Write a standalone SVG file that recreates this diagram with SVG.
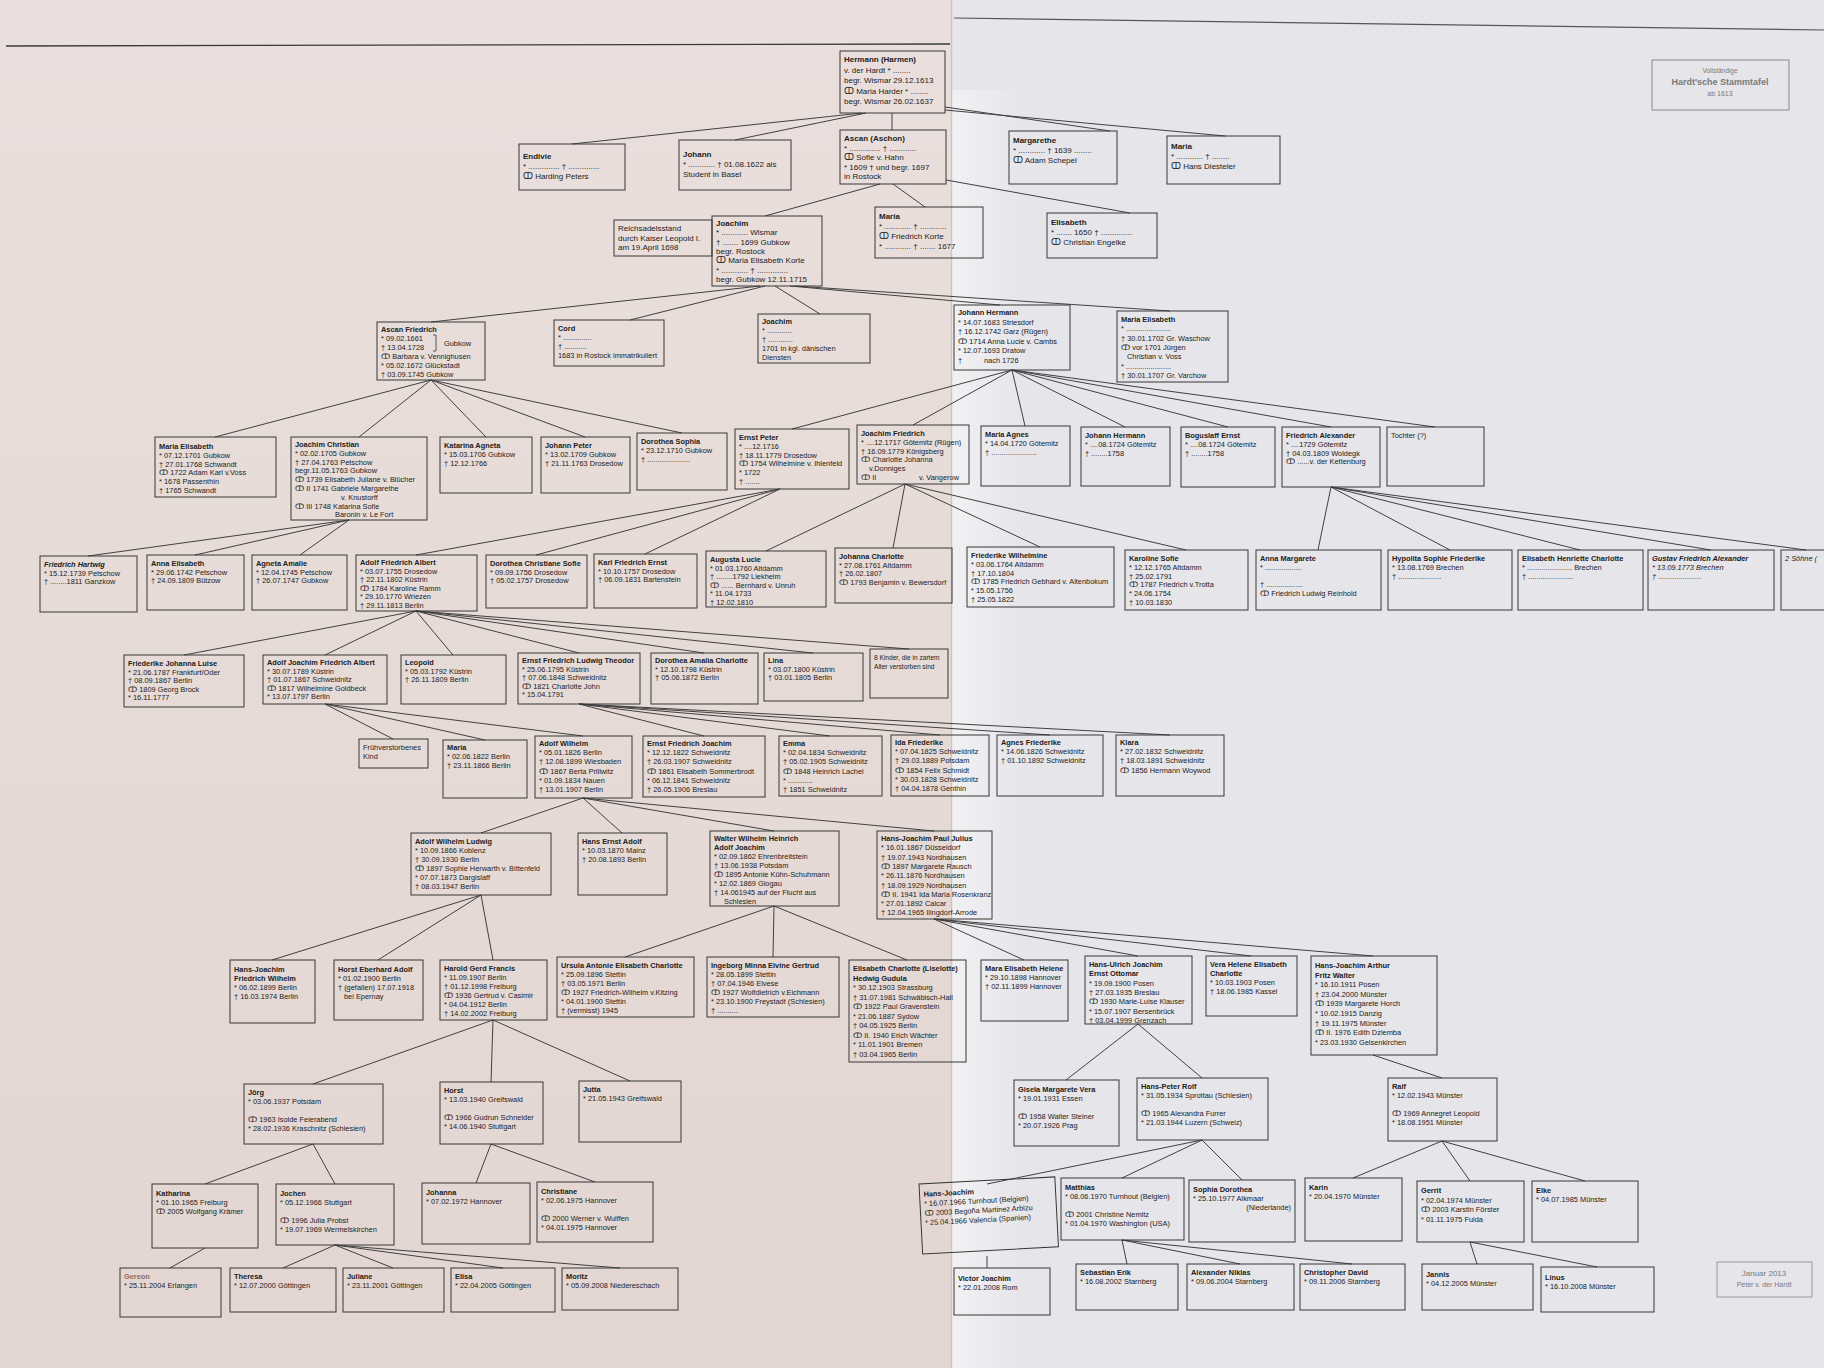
<svg xmlns="http://www.w3.org/2000/svg" width="1824" height="1368" viewBox="0 0 1824 1368">
<defs>
<linearGradient id="fold" x1="0" y1="0" x2="1" y2="0">
<stop offset="0" stop-color="#ffffff" stop-opacity="0.45"/>
<stop offset="1" stop-color="#ffffff" stop-opacity="0"/>
</linearGradient>
<linearGradient id="shadeL" x1="0" y1="0" x2="0" y2="1">
<stop offset="0" stop-color="#eadfdc"/>
<stop offset="1" stop-color="#e3d6d2"/>
</linearGradient>
<style>
.b{fill:none;stroke:#363636;stroke-width:1}
.t{font-family:"Liberation Sans","DejaVu Sans",Arial,sans-serif;font-size:7.4px;fill:#222}
.m{font-size:8px}
.n{font-weight:bold}
.g{fill:#7a7a7a}
.c line{stroke:#404040;stroke-width:1}
</style>
</defs>

<!-- paper: two halves meeting at the fold -->
<rect x="0" y="0" width="952" height="1368" fill="url(#shadeL)"/>
<rect x="952" y="0" width="872" height="1368" fill="#e6e5ea"/>
<rect x="952" y="90" width="70" height="1278" fill="url(#fold)"/>
<line x1="951.5" y1="0" x2="951.5" y2="1368" stroke="#cfc4c2" stroke-width="1.5"/>
<line x1="6" y1="46" x2="950" y2="44" stroke="#3a3a3a" stroke-width="1.3"/>
<line x1="954" y1="18" x2="1824" y2="30" stroke="#555" stroke-width="1.1"/>

<!-- connectors -->
<g id="connectors" class="c">
<line x1="862" y1="113" x2="572" y2="144"/>
<line x1="866" y1="113" x2="735" y2="140"/>
<line x1="892" y1="113" x2="892" y2="130"/>
<line x1="945" y1="107" x2="1110" y2="131"/>
<line x1="945" y1="110" x2="1225" y2="136"/>
<line x1="880" y1="184" x2="765" y2="216"/>
<line x1="893" y1="184" x2="925" y2="207"/>
<line x1="946" y1="180" x2="1130" y2="213"/>
<line x1="760" y1="286" x2="431" y2="322"/>
<line x1="765" y1="286" x2="630" y2="320"/>
<line x1="775" y1="286" x2="820" y2="314"/>
<line x1="790" y1="286" x2="1000" y2="305"/>
<line x1="795" y1="286" x2="1170" y2="311"/>
<line x1="431" y1="380" x2="215" y2="437"/>
<line x1="431" y1="380" x2="359" y2="437"/>
<line x1="431" y1="380" x2="486" y2="437"/>
<line x1="431" y1="380" x2="585" y2="437"/>
<line x1="431" y1="380" x2="682" y2="433"/>
<line x1="1012" y1="370" x2="792" y2="429"/>
<line x1="1012" y1="370" x2="913" y2="425"/>
<line x1="1012" y1="370" x2="1025" y2="426"/>
<line x1="1012" y1="370" x2="1125" y2="427"/>
<line x1="1012" y1="370" x2="1228" y2="427"/>
<line x1="1012" y1="370" x2="1331" y2="427"/>
<line x1="1012" y1="370" x2="1435" y2="427"/>
<line x1="349" y1="520" x2="88" y2="556"/>
<line x1="349" y1="520" x2="195" y2="555"/>
<line x1="349" y1="520" x2="300" y2="555"/>
<line x1="780" y1="489" x2="416" y2="555"/>
<line x1="780" y1="489" x2="536" y2="555"/>
<line x1="780" y1="489" x2="645" y2="554"/>
<line x1="905" y1="484" x2="766" y2="551"/>
<line x1="905" y1="484" x2="893" y2="548"/>
<line x1="905" y1="484" x2="1040" y2="547"/>
<line x1="905" y1="484" x2="1186" y2="550"/>
<line x1="1331" y1="487" x2="1318" y2="550"/>
<line x1="1331" y1="487" x2="1450" y2="550"/>
<line x1="1331" y1="487" x2="1580" y2="550"/>
<line x1="1331" y1="487" x2="1711" y2="550"/>
<line x1="1331" y1="487" x2="1806" y2="550"/>
<line x1="416" y1="611" x2="184" y2="655"/>
<line x1="416" y1="611" x2="325" y2="655"/>
<line x1="416" y1="611" x2="453" y2="655"/>
<line x1="416" y1="611" x2="579" y2="653"/>
<line x1="416" y1="611" x2="704" y2="653"/>
<line x1="416" y1="611" x2="813" y2="653"/>
<line x1="416" y1="611" x2="909" y2="649"/>
<line x1="325" y1="704" x2="393" y2="739"/>
<line x1="325" y1="704" x2="485" y2="740"/>
<line x1="325" y1="704" x2="583" y2="736"/>
<line x1="579" y1="704" x2="704" y2="736"/>
<line x1="579" y1="704" x2="830" y2="736"/>
<line x1="579" y1="704" x2="940" y2="735"/>
<line x1="579" y1="704" x2="1050" y2="735"/>
<line x1="579" y1="704" x2="1170" y2="735"/>
<line x1="583" y1="798" x2="481" y2="833"/>
<line x1="583" y1="798" x2="622" y2="833"/>
<line x1="583" y1="798" x2="774" y2="831"/>
<line x1="583" y1="798" x2="934" y2="831"/>
<line x1="481" y1="895" x2="272" y2="960"/>
<line x1="481" y1="895" x2="378" y2="960"/>
<line x1="481" y1="895" x2="493" y2="960"/>
<line x1="774" y1="906" x2="625" y2="957"/>
<line x1="774" y1="906" x2="773" y2="957"/>
<line x1="774" y1="906" x2="907" y2="960"/>
<line x1="934" y1="919" x2="1024" y2="960"/>
<line x1="934" y1="919" x2="1138" y2="956"/>
<line x1="934" y1="919" x2="1251" y2="956"/>
<line x1="934" y1="919" x2="1373" y2="956"/>
<line x1="493" y1="1020" x2="313" y2="1084"/>
<line x1="493" y1="1020" x2="491" y2="1082"/>
<line x1="493" y1="1020" x2="630" y2="1081"/>
<line x1="1138" y1="1024" x2="1066" y2="1080"/>
<line x1="1138" y1="1024" x2="1202" y2="1078"/>
<line x1="1373" y1="1055" x2="1442" y2="1078"/>
<line x1="313" y1="1144" x2="205" y2="1184"/>
<line x1="313" y1="1144" x2="335" y2="1184"/>
<line x1="491" y1="1144" x2="476" y2="1183"/>
<line x1="491" y1="1144" x2="595" y2="1182"/>
<line x1="1202" y1="1140" x2="987" y2="1184"/>
<line x1="1202" y1="1140" x2="1122" y2="1178"/>
<line x1="1202" y1="1140" x2="1242" y2="1180"/>
<line x1="1442" y1="1141" x2="1353" y2="1178"/>
<line x1="1442" y1="1141" x2="1470" y2="1181"/>
<line x1="1442" y1="1141" x2="1585" y2="1181"/>
<line x1="205" y1="1248" x2="170" y2="1268"/>
<line x1="335" y1="1245" x2="283" y2="1268"/>
<line x1="335" y1="1245" x2="393" y2="1268"/>
<line x1="335" y1="1245" x2="503" y2="1268"/>
<line x1="335" y1="1245" x2="620" y2="1268"/>
<line x1="987" y1="1256" x2="987" y2="1268"/>
<line x1="1122" y1="1240" x2="1127" y2="1264"/>
<line x1="1122" y1="1240" x2="1240" y2="1264"/>
<line x1="1122" y1="1240" x2="1352" y2="1264"/>
<line x1="1470" y1="1242" x2="1477" y2="1264"/>
<line x1="1470" y1="1242" x2="1597" y2="1267"/>
</g>

<!-- generation 1 -->
<g id="n-hermann" transform="translate(840,51)"><rect class="b" width="105" height="62"/>
<text class="t m" y="11"><tspan x="4" class="n">Hermann (Harmen)</tspan><tspan x="4" dy="10.5">v. der Hardt  * ........</tspan><tspan x="4" dy="10.5">begr. Wismar 29.12.1613</tspan><tspan x="4" dy="10.5">ↀ Maria Harder  * ........</tspan><tspan x="4" dy="10.5">begr. Wismar 26.02.1637</tspan></text></g>

<g id="n-title" transform="translate(1652,60)"><rect width="137" height="50" fill="none" stroke="#8a8a8a" stroke-width="1"/>
<text class="t g" text-anchor="middle" x="68" y="13" style="font-size:6.5px">Vollständige</text>
<text class="t g n" text-anchor="middle" x="68" y="25" style="font-size:9px">Hardt'sche Stammtafel</text>
<text class="t g" text-anchor="middle" x="68" y="36" style="font-size:7px">ab 1613</text></g>

<!-- generation 2 -->
<g id="n-endivie" transform="translate(519,144)"><rect class="b" width="106" height="46"/>
<text class="t m" y="15"><tspan x="4" class="n">Endivie</tspan><tspan x="4" dy="10">* .............. † ..............</tspan><tspan x="4" dy="10">ↀ Harding Peters</tspan></text></g>

<g id="n-johann" transform="translate(679,140)"><rect class="b" width="112" height="50"/>
<text class="t m" y="17"><tspan x="4" class="n">Johann</tspan><tspan x="4" dy="10">* ............   † 01.08.1622 als</tspan><tspan x="4" dy="10">Student in Basel</tspan></text></g>

<g id="n-ascan" transform="translate(840,130)"><rect class="b" width="106" height="54"/>
<text class="t m" y="11"><tspan x="4" class="n">Ascan (Aschon)</tspan><tspan x="4" dy="9.6">* .............. † ............</tspan><tspan x="4" dy="9.6">ↀ Sofie v. Hahn</tspan><tspan x="4" dy="9.6">* 1609  † und begr. 1697</tspan><tspan x="4" dy="9.6">in Rostock</tspan></text></g>

<g id="n-margarethe" transform="translate(1009,131)"><rect class="b" width="108" height="53"/>
<text class="t m" y="12"><tspan x="4" class="n">Margarethe</tspan><tspan x="4" dy="10">* ............ † 1639 ........</tspan><tspan x="4" dy="10">ↀ Adam Schepel</tspan></text></g>

<g id="n-maria1" transform="translate(1167,136)"><rect class="b" width="113" height="48"/>
<text class="t m" y="13"><tspan x="4" class="n">Maria</tspan><tspan x="4" dy="10">* ............  † ........</tspan><tspan x="4" dy="10">ↀ Hans Diesteler</tspan></text></g>

<!-- generation 3 -->
<g id="n-reichsadel" transform="translate(614,220)"><rect class="b" width="98" height="36"/>
<text class="t m" y="11"><tspan x="4">Reichsadelsstand</tspan><tspan x="4" dy="9.5">durch Kaiser Leopold I.</tspan><tspan x="4" dy="9.5">am 19.April 1698</tspan></text></g>

<g id="n-joachim1" transform="translate(712,216)"><rect class="b" width="110" height="70"/>
<text class="t m" y="10"><tspan x="4" class="n">Joachim</tspan><tspan x="4" dy="9.3">* ............ Wismar</tspan><tspan x="4" dy="9.3">† ....... 1699 Gubkow</tspan><tspan x="4" dy="9.3">begr. Rostock</tspan><tspan x="4" dy="9.3">ↀ Maria Elisabeth Korte</tspan><tspan x="4" dy="9.3">* ............ † ..............</tspan><tspan x="4" dy="9.3">begr. Gubkow 12.11.1715</tspan></text></g>

<g id="n-maria2" transform="translate(875,207)"><rect class="b" width="108" height="51"/>
<text class="t m" y="12"><tspan x="4" class="n">Maria</tspan><tspan x="4" dy="10">* ............ † ............</tspan><tspan x="4" dy="10">ↀ Friedrich Korte</tspan><tspan x="4" dy="10">* ............ † ....... 1677</tspan></text></g>

<g id="n-elisabeth1" transform="translate(1047,213)"><rect class="b" width="110" height="45"/>
<text class="t m" y="12"><tspan x="4" class="n">Elisabeth</tspan><tspan x="4" dy="10">* ....... 1650 † ..............</tspan><tspan x="4" dy="10">ↀ Christian Engelke</tspan></text></g>

<!-- generation 4 -->
<g id="n-ascanfriedrich" transform="translate(377,322)"><rect class="b" width="108" height="58"/>
<text class="t" y="10"><tspan x="4" class="n">Ascan Friedrich</tspan><tspan x="4" dy="9">* 09.02.1661</tspan><tspan x="4" dy="9">† 13.04.1728</tspan><tspan x="4" dy="9">ↀ  Barbara v. Vennighusen</tspan><tspan x="4" dy="9">* 05.02.1672 Glückstadt</tspan><tspan x="4" dy="9">† 03.09.1745 Gubkow</tspan></text>
<path d="M56 13 H59 V29 H56" fill="none" stroke="#363636" stroke-width="0.8"/>
<text class="t" x="67" y="24">Gubkow</text></g>

<g id="n-cord" transform="translate(554,320)"><rect class="b" width="110" height="46"/>
<text class="t" y="11"><tspan x="4" class="n">Cord</tspan><tspan x="4" dy="9">* ..............</tspan><tspan x="4" dy="9">† ...........</tspan><tspan x="4" dy="9">1683 in Rostock immatrikuliert</tspan></text></g>

<g id="n-joachim2" transform="translate(758,314)"><rect class="b" width="112" height="49"/>
<text class="t" y="10"><tspan x="4" class="n">Joachim</tspan><tspan x="4" dy="9">* ............</tspan><tspan x="4" dy="9">† ............</tspan><tspan x="4" dy="9">1701 in kgl. dänischen</tspan><tspan x="4" dy="9">Diensten</tspan></text></g>

<g id="n-johannhermann1" transform="translate(954,305)"><rect class="b" width="116" height="65"/>
<text class="t" y="10"><tspan x="4" class="n">Johann Hermann</tspan><tspan x="4" dy="9.6">* 14.07.1683 Striesdorf</tspan><tspan x="4" dy="9.6">† 16.12.1742 Garz (Rügen)</tspan><tspan x="4" dy="9.6">ↀ 1714 Anna Lucie v. Cambs</tspan><tspan x="4" dy="9.6">* 12.07.1693 Dratow</tspan><tspan x="4" dy="9.6">†</tspan><tspan x="30">nach 1726</tspan></text></g>

<g id="n-mariaelisabeth1" transform="translate(1117,311)"><rect class="b" width="111" height="71"/>
<text class="t" y="11"><tspan x="4" class="n">Maria Elisabeth</tspan><tspan x="4" dy="9.3">* ......................</tspan><tspan x="4" dy="9.3">† 30.01.1702 Gr. Waschow</tspan><tspan x="4" dy="9.3">ↀ vor 1701 Jürgen</tspan><tspan x="10" dy="9.3">Christian v. Voss</tspan><tspan x="4" dy="9.3">* ......................</tspan><tspan x="4" dy="9.3">† 30.01.1707 Gr. Varchow</tspan></text></g>

<!-- generation 5 -->
<g id="n-mariaelisabeth2" transform="translate(155,437)"><rect class="b" width="121" height="60"/>
<text class="t" y="12"><tspan x="4" class="n">Maria Elisabeth</tspan><tspan x="4" dy="8.8">* 07.12.1701 Gubkow</tspan><tspan x="4" dy="8.8">† 27.01.1768 Schwandt</tspan><tspan x="4" dy="8.8">ↀ 1722 Adam Karl v.Voss</tspan><tspan x="4" dy="8.8">* 1678 Passenthin</tspan><tspan x="4" dy="8.8">† 1765 Schwandt</tspan></text></g>

<g id="n-joachimchristian" transform="translate(291,437)"><rect class="b" width="136" height="83"/>
<text class="t" y="10"><tspan x="4" class="n">Joachim Christian</tspan><tspan x="4" dy="8.8">* 02.02.1705 Gubkow</tspan><tspan x="4" dy="8.8">† 27.04.1763 Petschow</tspan><tspan x="4" dy="8.8">begr.11.05.1763 Gubkow</tspan><tspan x="4" dy="8.8">ↀ 1739 Elisabeth Juliane v. Blücher</tspan><tspan x="4" dy="8.8">ↀ II 1741 Gabriele Margarethe</tspan><tspan x="50" dy="8.8">v. Knustorff</tspan><tspan x="4" dy="8.8">ↀ III 1748 Katarina Sofie</tspan><tspan x="44" dy="8.8">Baronin v. Le Fort</tspan></text></g>

<g id="n-katarinaagneta" transform="translate(440,437)"><rect class="b" width="92" height="56"/>
<text class="t" y="11"><tspan x="4" class="n">Katarina Agneta</tspan><tspan x="4" dy="8.8">* 15.03.1706 Gubkow</tspan><tspan x="4" dy="8.8">† 12.12.1766</tspan></text></g>

<g id="n-johannpeter" transform="translate(541,437)"><rect class="b" width="89" height="56"/>
<text class="t" y="11"><tspan x="4" class="n">Johann Peter</tspan><tspan x="4" dy="8.8">* 13.02.1709 Gubkow</tspan><tspan x="4" dy="8.8">† 21.11.1763 Drosedow</tspan></text></g>

<g id="n-dorotheasophia" transform="translate(637,433)"><rect class="b" width="90" height="57"/>
<text class="t" y="11"><tspan x="4" class="n">Dorothea Sophia</tspan><tspan x="4" dy="8.8">* 23.12.1710 Gubkow</tspan><tspan x="4" dy="8.8">† .....................</tspan></text></g>

<g id="n-ernstpeter" transform="translate(735,429)"><rect class="b" width="114" height="60"/>
<text class="t" y="11"><tspan x="4" class="n">Ernst Peter</tspan><tspan x="4" dy="8.8">* ....12.1716</tspan><tspan x="4" dy="8.8">† 18.11.1779 Drosedow</tspan><tspan x="4" dy="8.8">ↀ 1754 Wilhelmine v. Ihlenfeld</tspan><tspan x="4" dy="8.8">* 1722</tspan><tspan x="4" dy="8.8">† .......</tspan></text></g>

<g id="n-joachimfriedrich" transform="translate(857,425)"><rect class="b" width="112" height="59"/>
<text class="t" y="11"><tspan x="4" class="n">Joachim Friedrich</tspan><tspan x="4" dy="8.8">* ....12.1717 Götemitz (Rügen)</tspan><tspan x="4" dy="8.8">† 16.09.1779 Königsberg</tspan><tspan x="4" dy="8.8">ↀ Charlotte Johanna</tspan><tspan x="12" dy="8.8">v.Donniges</tspan><tspan x="4" dy="8.8">ↀ II</tspan><tspan x="62">v. Vangerow</tspan></text></g>

<g id="n-mariaagnes" transform="translate(981,426)"><rect class="b" width="89" height="60"/>
<text class="t" y="11"><tspan x="4" class="n">Maria Agnes</tspan><tspan x="4" dy="8.8">* 14.04.1720 Götemitz</tspan><tspan x="4" dy="8.8">† ......................</tspan></text></g>

<g id="n-johannhermann2" transform="translate(1081,427)"><rect class="b" width="89" height="59"/>
<text class="t" y="11"><tspan x="4" class="n">Johann Hermann</tspan><tspan x="4" dy="8.8">* ....08.1724 Götemitz</tspan><tspan x="4" dy="8.8">† ........1758</tspan></text></g>

<g id="n-boguslaffernst" transform="translate(1181,427)"><rect class="b" width="94" height="60"/>
<text class="t" y="11"><tspan x="4" class="n">Boguslaff Ernst</tspan><tspan x="4" dy="8.8">* ....08.1724 Götemitz</tspan><tspan x="4" dy="8.8">† ........1758</tspan></text></g>

<g id="n-friedrichalexander" transform="translate(1282,427)"><rect class="b" width="98" height="60"/>
<text class="t" y="11"><tspan x="4" class="n">Friedrich Alexander</tspan><tspan x="4" dy="8.8">* ....1729 Götemitz</tspan><tspan x="4" dy="8.8">† 04.03.1809 Woldegk</tspan><tspan x="4" dy="8.8">ↀ ......v. der Kettenburg</tspan></text></g>

<g id="n-tochter" transform="translate(1387,427)"><rect class="b" width="97" height="59"/>
<text class="t" x="4" y="11">Tochter (?)</text></g>

<!-- generation 6 -->
<g id="n-friedrichhartwig" transform="translate(40,556)"><rect class="b" width="97" height="56"/>
<text class="t" y="11"><tspan x="4" class="n" font-style="italic">Friedrich Hartwig</tspan><tspan x="4" dy="8.6">* 15.12.1739 Petschow</tspan><tspan x="4" dy="8.6">† ........1811 Ganzkow</tspan></text></g>

<g id="n-annaelisabeth" transform="translate(147,555)"><rect class="b" width="97" height="55"/>
<text class="t" y="11"><tspan x="4" class="n">Anna Elisabeth</tspan><tspan x="4" dy="8.6">* 29.06.1742 Petschow</tspan><tspan x="4" dy="8.6">† 24.09.1809 Bützow</tspan></text></g>

<g id="n-agnetaamalie" transform="translate(252,555)"><rect class="b" width="95" height="55"/>
<text class="t" y="11"><tspan x="4" class="n">Agneta Amalie</tspan><tspan x="4" dy="8.6">* 12.04.1745 Petschow</tspan><tspan x="4" dy="8.6">† 26.07.1747 Gubkow</tspan></text></g>

<g id="n-adolffriedrichalbert" transform="translate(356,555)"><rect class="b" width="121" height="56"/>
<text class="t" y="10"><tspan x="4" class="n">Adolf Friedrich Albert</tspan><tspan x="4" dy="8.6">* 03.07.1755 Drosedow</tspan><tspan x="4" dy="8.6">† 22.11.1802 Küstrin</tspan><tspan x="4" dy="8.6">ↀ 1784 Karoline Ramm</tspan><tspan x="4" dy="8.6">* 29.10.1770 Wriezen</tspan><tspan x="4" dy="8.6">† 29.11.1813 Berlin</tspan></text></g>

<g id="n-dorotheachristianesofie" transform="translate(486,555)"><rect class="b" width="101" height="53"/>
<text class="t" y="11"><tspan x="4" class="n">Dorothea Christiane Sofie</tspan><tspan x="4" dy="8.6">* 09.09.1756 Drosedow</tspan><tspan x="4" dy="8.6">† 05.02.1757 Drosedow</tspan></text></g>

<g id="n-karlfriedrichernst" transform="translate(594,554)"><rect class="b" width="103" height="54"/>
<text class="t" y="11"><tspan x="4" class="n">Karl Friedrich Ernst</tspan><tspan x="4" dy="8.6">* 10.10.1757 Drosedow</tspan><tspan x="4" dy="8.6">† 06.09.1831 Bartenstein</tspan></text></g>

<g id="n-augustalucie" transform="translate(706,551)"><rect class="b" width="120" height="56"/>
<text class="t" y="11"><tspan x="4" class="n">Augusta Lucie</tspan><tspan x="4" dy="8.6">* 01.03.1760 Altdamm</tspan><tspan x="4" dy="8.6">† ........1792 Liekheim</tspan><tspan x="4" dy="8.6">ↀ ...... Bernhard v. Unruh</tspan><tspan x="4" dy="8.6">* 11.04.1733</tspan><tspan x="4" dy="8.6">† 12.02.1810</tspan></text></g>

<g id="n-johannacharlotte" transform="translate(835,548)"><rect class="b" width="117" height="55"/>
<text class="t" y="11"><tspan x="4" class="n">Johanna Charlotte</tspan><tspan x="4" dy="8.6">* 27.08.1761 Altdamm</tspan><tspan x="4" dy="8.6">† 26.02.1807</tspan><tspan x="4" dy="8.6">ↀ 1793 Benjamin v. Bewersdorf</tspan></text></g>

<g id="n-friederikewilhelmine" transform="translate(967,547)"><rect class="b" width="147" height="60"/>
<text class="t" y="11"><tspan x="4" class="n">Friederike Wilhelmine</tspan><tspan x="4" dy="8.8">* 03.06.1764 Altdamm</tspan><tspan x="4" dy="8.8">† 17.10.1804</tspan><tspan x="4" dy="8.8">ↀ 1785 Friedrich Gebhard v. Altenbokum</tspan><tspan x="4" dy="8.8">* 15.05.1756</tspan><tspan x="4" dy="8.8">† 25.05.1822</tspan></text></g>

<g id="n-karolinesofie" transform="translate(1125,550)"><rect class="b" width="123" height="60"/>
<text class="t" y="11"><tspan x="4" class="n">Karoline Sofie</tspan><tspan x="4" dy="8.8">* 12.12.1765 Altdamm</tspan><tspan x="4" dy="8.8">† 25.02.1791</tspan><tspan x="4" dy="8.8">ↀ 1787 Friedrich v.Trotta</tspan><tspan x="4" dy="8.8">* 24.06.1754</tspan><tspan x="4" dy="8.8">† 10.03.1830</tspan></text></g>

<g id="n-annamargarete" transform="translate(1256,550)"><rect class="b" width="125" height="60"/>
<text class="t" y="11"><tspan x="4" class="n">Anna Margarete</tspan><tspan x="4" dy="8.8">* ..................</tspan><tspan x="4" dy="8.8"> </tspan><tspan x="4" dy="8.8">† ..................</tspan><tspan x="4" dy="8.8">ↀ Friedrich Ludwig Reinhold</tspan></text></g>

<g id="n-hypolita" transform="translate(1388,550)"><rect class="b" width="124" height="60"/>
<text class="t" y="11"><tspan x="4" class="n">Hypolita Sophie Friederike</tspan><tspan x="4" dy="8.8">* 13.08.1769 Brechen</tspan><tspan x="4" dy="8.8">† .....................</tspan></text></g>

<g id="n-elisabethhenriette" transform="translate(1518,550)"><rect class="b" width="125" height="60"/>
<text class="t" y="11"><tspan x="4" class="n">Elisabeth Henriette Charlotte</tspan><tspan x="4" dy="8.8">* ......................  Brechen</tspan><tspan x="4" dy="8.8">† ......................</tspan></text></g>

<g id="n-gustavfriedrich" transform="translate(1648,550)"><rect class="b" width="126" height="60"/>
<text class="t" y="11" font-style="italic"><tspan x="4" class="n">Gustav Friedrich Alexander</tspan><tspan x="4" dy="8.8">* 13.09.1773 Brechen</tspan><tspan x="4" dy="8.8">† .....................</tspan></text></g>

<g id="n-soehne" transform="translate(1781,550)"><rect class="b" width="50" height="60"/>
<text class="t" x="4" y="11" font-style="italic">2 Söhne (</text></g>

<!-- generation 7 -->
<g id="n-friederikejohanna" transform="translate(124,655)"><rect class="b" width="120" height="52"/>
<text class="t" y="11"><tspan x="4" class="n">Friederike Johanna Luise</tspan><tspan x="4" dy="8.6">* 21.06.1787 Frankfurt/Oder</tspan><tspan x="4" dy="8.6">† 08.09.1867 Berlin</tspan><tspan x="4" dy="8.6">ↀ 1809 Georg Brock</tspan><tspan x="4" dy="8.6">* 16.11.1777</tspan></text></g>

<g id="n-adolfjoachim" transform="translate(263,655)"><rect class="b" width="124" height="49"/>
<text class="t" y="10"><tspan x="4" class="n">Adolf Joachim Friedrich Albert</tspan><tspan x="4" dy="8.6">* 30.07.1789 Küstrin</tspan><tspan x="4" dy="8.6">† 01.07.1867 Schweidnitz</tspan><tspan x="4" dy="8.6">ↀ 1817 Wilhelmine Goldbeck</tspan><tspan x="4" dy="8.6">* 13.07.1797 Berlin</tspan></text></g>

<g id="n-leopold" transform="translate(401,655)"><rect class="b" width="105" height="49"/>
<text class="t" y="10"><tspan x="4" class="n">Leopold</tspan><tspan x="4" dy="8.6">* 05.03.1792 Küstrin</tspan><tspan x="4" dy="8.6">† 26.11.1809 Berlin</tspan></text></g>

<g id="n-ernstfriedrichludwig" transform="translate(518,653)"><rect class="b" width="122" height="51"/>
<text class="t" y="10"><tspan x="4" class="n">Ernst Friedrich Ludwig Theodor</tspan><tspan x="4" dy="8.6">* 25.06.1795 Küstrin</tspan><tspan x="4" dy="8.6">† 07.06.1848 Schweidnitz</tspan><tspan x="4" dy="8.6">ↀ 1821 Charlotte John</tspan><tspan x="4" dy="8.6">* 15.04.1791</tspan></text></g>

<g id="n-dorotheaamalia" transform="translate(651,653)"><rect class="b" width="107" height="51"/>
<text class="t" y="10"><tspan x="4" class="n">Dorothea Amalia Charlotte</tspan><tspan x="4" dy="8.6">* 12.10.1798 Küstrin</tspan><tspan x="4" dy="8.6">† 05.06.1872 Berlin</tspan></text></g>

<g id="n-lina" transform="translate(764,653)"><rect class="b" width="99" height="48"/>
<text class="t" y="10"><tspan x="4" class="n">Lina</tspan><tspan x="4" dy="8.6">* 03.07.1800 Küstrin</tspan><tspan x="4" dy="8.6">† 03.01.1805 Berlin</tspan></text></g>

<g id="n-achtkinder" transform="translate(870,649)"><rect class="b" width="78" height="49"/>
<text class="t" y="11" style="font-size:6.6px"><tspan x="4">8 Kinder, die in zartem</tspan><tspan x="4" dy="8.6">Alter verstorben sind</tspan></text></g>

<!-- generation 8 -->
<g id="n-fruehverstorben" transform="translate(359,739)"><rect class="b" width="69" height="29"/>
<text class="t" y="11"><tspan x="4">Frühverstorbenes</tspan><tspan x="4" dy="8.6">Kind</tspan></text></g>

<g id="n-maria3" transform="translate(443,740)"><rect class="b" width="84" height="58"/>
<text class="t" y="10"><tspan x="4" class="n">Maria</tspan><tspan x="4" dy="8.8">* 02.06.1822 Berlin</tspan><tspan x="4" dy="8.8">† 23.11.1866 Berlin</tspan></text></g>

<g id="n-adolfwilhelm" transform="translate(535,736)"><rect class="b" width="97" height="62"/>
<text class="t" y="10"><tspan x="4" class="n">Adolf Wilhelm</tspan><tspan x="4" dy="9.2">* 05.01.1826 Berlin</tspan><tspan x="4" dy="9.2">† 12.08.1899 Wiesbaden</tspan><tspan x="4" dy="9.2">ↀ 1867 Berta Prillwitz</tspan><tspan x="4" dy="9.2">* 01.09.1834 Nauen</tspan><tspan x="4" dy="9.2">† 13.01.1907 Berlin</tspan></text></g>

<g id="n-ernstfriedrichjoachim" transform="translate(643,736)"><rect class="b" width="122" height="61"/>
<text class="t" y="10"><tspan x="4" class="n">Ernst Friedrich Joachim</tspan><tspan x="4" dy="9.2">* 12.12.1822 Schweidnitz</tspan><tspan x="4" dy="9.2">† 26.03.1907 Schweidnitz</tspan><tspan x="4" dy="9.2">ↀ 1861 Elisabeth Sommerbrodt</tspan><tspan x="4" dy="9.2">* 06.12.1841 Schweidnitz</tspan><tspan x="4" dy="9.2">† 26.05.1906 Breslau</tspan></text></g>

<g id="n-emma" transform="translate(779,736)"><rect class="b" width="103" height="60"/>
<text class="t" y="10"><tspan x="4" class="n">Emma</tspan><tspan x="4" dy="9.2">* 02.04.1834 Schweidnitz</tspan><tspan x="4" dy="9.2">† 05.02.1905 Schweidnitz</tspan><tspan x="4" dy="9.2">ↀ 1848 Heinrich Lachel</tspan><tspan x="4" dy="9.2">* ............</tspan><tspan x="4" dy="9.2">† 1851 Schweidnitz</tspan></text></g>

<g id="n-idafriederike" transform="translate(891,735)"><rect class="b" width="98" height="61"/>
<text class="t" y="10"><tspan x="4" class="n">Ida Friederike</tspan><tspan x="4" dy="9.2">* 07.04.1825 Schweidnitz</tspan><tspan x="4" dy="9.2">† 29.03.1889 Potsdam</tspan><tspan x="4" dy="9.2">ↀ 1854 Felix Schmidt</tspan><tspan x="4" dy="9.2">* 30.03.1828 Schweidnitz</tspan><tspan x="4" dy="9.2">† 04.04.1878 Genthin</tspan></text></g>

<g id="n-agnesfriederike" transform="translate(997,735)"><rect class="b" width="106" height="61"/>
<text class="t" y="10"><tspan x="4" class="n">Agnes Friederike</tspan><tspan x="4" dy="9.2">* 14.06.1826 Schweidnitz</tspan><tspan x="4" dy="9.2">† 01.10.1892 Schweidnitz</tspan></text></g>

<g id="n-klara" transform="translate(1116,735)"><rect class="b" width="108" height="61"/>
<text class="t" y="10"><tspan x="4" class="n">Klara</tspan><tspan x="4" dy="9.2">* 27.02.1832 Schweidnitz</tspan><tspan x="4" dy="9.2">† 18.03.1891 Schweidnitz</tspan><tspan x="4" dy="9.2">ↀ 1856 Hermann Woywod</tspan></text></g>

<!-- generation 9 -->
<g id="n-adolfwilhelmludwig" transform="translate(411,833)"><rect class="b" width="140" height="62"/>
<text class="t" y="11"><tspan x="4" class="n">Adolf Wilhelm Ludwig</tspan><tspan x="4" dy="9">* 10.09.1866 Koblenz</tspan><tspan x="4" dy="9">† 30.09.1930 Berlin</tspan><tspan x="4" dy="9">ↀ 1897 Sophie Herwarth v. Bittenfeld</tspan><tspan x="4" dy="9">* 07.07.1873 Dargislaff</tspan><tspan x="4" dy="9">† 08.03.1947 Berlin</tspan></text></g>

<g id="n-hansernstadolf" transform="translate(578,833)"><rect class="b" width="89" height="62"/>
<text class="t" y="11"><tspan x="4" class="n">Hans Ernst Adolf</tspan><tspan x="4" dy="9">* 10.03.1870 Mainz</tspan><tspan x="4" dy="9">† 20.08.1893 Berlin</tspan></text></g>

<g id="n-walter" transform="translate(710,831)"><rect class="b" width="129" height="75"/>
<text class="t" y="10"><tspan x="4" class="n">Walter Wilhelm Heinrich</tspan><tspan x="4" dy="9" class="n">Adolf Joachim</tspan><tspan x="4" dy="9">* 02.09.1862 Ehrenbreitstein</tspan><tspan x="4" dy="9">† 13.06.1938 Potsdam</tspan><tspan x="4" dy="9">ↀ 1895 Antonie Kühn-Schuhmann</tspan><tspan x="4" dy="9">* 12.02.1869 Glogau</tspan><tspan x="4" dy="9">† 14.061945 auf der Flucht aus</tspan><tspan x="14" dy="9">Schlesien</tspan></text></g>

<g id="n-hansjoachimpaul" transform="translate(877,831)"><rect class="b" width="115" height="88"/>
<text class="t" y="10"><tspan x="4" class="n">Hans-Joachim Paul Julius</tspan><tspan x="4" dy="9.3">* 16.01.1867 Düsseldorf</tspan><tspan x="4" dy="9.3">† 19.07.1943 Nordhausen</tspan><tspan x="4" dy="9.3">ↀ 1897 Margarete Rausch</tspan><tspan x="4" dy="9.3">* 26.11.1876 Nordhausen</tspan><tspan x="4" dy="9.3">† 18.09.1929 Nordhausen</tspan><tspan x="4" dy="9.3">ↀ II. 1941 Ida Maria Rosenkranz</tspan><tspan x="4" dy="9.3">* 27.01.1892 Calcar</tspan><tspan x="4" dy="9.3">† 12.04.1965 Ilingdorf-Arrode</tspan></text></g>

<!-- generation 10 -->
<g id="n-hansjoachimfw" transform="translate(230,960)"><rect class="b" width="85" height="63"/>
<text class="t" y="12"><tspan x="4" class="n">Hans-Joachim</tspan><tspan x="4" dy="9" class="n">Friedrich Wilhelm</tspan><tspan x="4" dy="9">* 06.02.1899 Berlin</tspan><tspan x="4" dy="9">† 16.03.1974 Berlin</tspan></text></g>

<g id="n-horsteberhard" transform="translate(334,960)"><rect class="b" width="89" height="60"/>
<text class="t" y="12"><tspan x="4" class="n">Horst Eberhard Adolf</tspan><tspan x="4" dy="9">* 01.02.1900 Berlin</tspan><tspan x="4" dy="9">† (gefallen) 17.07.1918</tspan><tspan x="10" dy="9">bei Epernay</tspan></text></g>

<g id="n-harold" transform="translate(440,960)"><rect class="b" width="107" height="60"/>
<text class="t" y="11"><tspan x="4" class="n">Harold Gerd Francis</tspan><tspan x="4" dy="9">* 11.09.1907 Berlin</tspan><tspan x="4" dy="9">† 01.12.1998 Freiburg</tspan><tspan x="4" dy="9">ↀ 1936 Gertrud v. Casimir</tspan><tspan x="4" dy="9">* 04.04.1912 Berlin</tspan><tspan x="4" dy="9">† 14.02.2002 Freiburg</tspan></text></g>

<g id="n-ursula" transform="translate(557,957)"><rect class="b" width="137" height="60"/>
<text class="t" y="11"><tspan x="4" class="n">Ursula Antonie Elisabeth Charlotte</tspan><tspan x="4" dy="9">* 25.09.1896 Stettin</tspan><tspan x="4" dy="9">† 03.05.1971 Berlin</tspan><tspan x="4" dy="9">ↀ 1927 Friedrich-Wilhelm v.Kitzing</tspan><tspan x="4" dy="9">* 04.01.1900 Stettin</tspan><tspan x="4" dy="9">† (vermisst) 1945</tspan></text></g>

<g id="n-ingeborg" transform="translate(707,957)"><rect class="b" width="132" height="60"/>
<text class="t" y="11"><tspan x="4" class="n">Ingeborg Minna Elvine Gertrud</tspan><tspan x="4" dy="9">* 28.05.1899 Stettin</tspan><tspan x="4" dy="9">† 07.04.1946 Elvese</tspan><tspan x="4" dy="9">ↀ 1927 Wolfdietrich v.Eichmann</tspan><tspan x="4" dy="9">* 23.10.1900 Freystadt (Schlesien)</tspan><tspan x="4" dy="9">† ..........</tspan></text></g>

<g id="n-elisabethcharlotte" transform="translate(849,960)"><rect class="b" width="117" height="102"/>
<text class="t" y="11"><tspan x="4" class="n">Elisabeth Charlotte (Liselotte)</tspan><tspan x="4" dy="9.5" class="n">Hedwig Gudula</tspan><tspan x="4" dy="9.5">* 30.12.1903 Strassburg</tspan><tspan x="4" dy="9.5">† 31.07.1981 Schwäbisch-Hall</tspan><tspan x="4" dy="9.5">ↀ 1922 Paul Gravenstein</tspan><tspan x="4" dy="9.5">* 21.06.1887 Sydow</tspan><tspan x="4" dy="9.5">† 04.05.1925 Berlin</tspan><tspan x="4" dy="9.5">ↀ II. 1940 Erich Wächter</tspan><tspan x="4" dy="9.5">* 11.01.1901 Bremen</tspan><tspan x="4" dy="9.5">† 03.04.1965 Berlin</tspan></text></g>

<g id="n-mara" transform="translate(981,960)"><rect class="b" width="87" height="61"/>
<text class="t" y="11"><tspan x="4" class="n">Mara Elisabeth Helene</tspan><tspan x="4" dy="9">* 29.10.1898 Hannover</tspan><tspan x="4" dy="9">† 02.11.1899 Hannover</tspan></text></g>

<g id="n-hansulrich" transform="translate(1085,956)"><rect class="b" width="107" height="68"/>
<text class="t" y="11"><tspan x="4" class="n">Hans-Ulrich Joachim</tspan><tspan x="4" dy="9.3" class="n">Ernst Ottomar</tspan><tspan x="4" dy="9.3">* 19.09.1900 Posen</tspan><tspan x="4" dy="9.3">† 27.03.1935 Breslau</tspan><tspan x="4" dy="9.3">ↀ 1930 Marie-Luise Klauser</tspan><tspan x="4" dy="9.3">* 15.07.1907 Bersenbrück</tspan><tspan x="4" dy="9.3">† 03.04.1999 Grenzach</tspan></text></g>

<g id="n-vera" transform="translate(1206,956)"><rect class="b" width="91" height="60"/>
<text class="t" y="11"><tspan x="4" class="n">Vera Helene Elisabeth</tspan><tspan x="4" dy="9" class="n">Charlotte</tspan><tspan x="4" dy="9">* 10.03.1903 Posen</tspan><tspan x="4" dy="9">† 18.06.1985 Kassel</tspan></text></g>

<g id="n-hansjoachimarthur" transform="translate(1311,956)"><rect class="b" width="126" height="99"/>
<text class="t" y="12"><tspan x="4" class="n">Hans-Joachim Arthur</tspan><tspan x="4" dy="9.6" class="n">Fritz Walter</tspan><tspan x="4" dy="9.6">* 16.10.1911 Posen</tspan><tspan x="4" dy="9.6">† 23.04.2000 Münster</tspan><tspan x="4" dy="9.6">ↀ 1939 Margarete Horch</tspan><tspan x="4" dy="9.6">* 10.02.1915 Danzig</tspan><tspan x="4" dy="9.6">† 19.11.1975 Münster</tspan><tspan x="4" dy="9.6">ↀ II. 1976 Edith Dziemba</tspan><tspan x="4" dy="9.6">* 23.03.1930 Gelsenkirchen</tspan></text></g>

<!-- generation 11 -->
<g id="n-joerg" transform="translate(244,1084)"><rect class="b" width="139" height="60"/>
<text class="t" y="11"><tspan x="4" class="n">Jörg</tspan><tspan x="4" dy="9">* 03.06.1937 Potsdam</tspan><tspan x="4" dy="18">ↀ 1963 Isolde Feierabend</tspan><tspan x="4" dy="9">*   28.02.1936 Kraschnitz (Schlesien)</tspan></text></g>

<g id="n-horst" transform="translate(440,1082)"><rect class="b" width="103" height="62"/>
<text class="t" y="11"><tspan x="4" class="n">Horst</tspan><tspan x="4" dy="9">* 13.03.1940 Greifswald</tspan><tspan x="4" dy="18">ↀ 1966 Gudrun Schneider</tspan><tspan x="4" dy="9">*   14.06.1940 Stuttgart</tspan></text></g>

<g id="n-jutta" transform="translate(579,1081)"><rect class="b" width="102" height="61"/>
<text class="t" y="11"><tspan x="4" class="n">Jutta</tspan><tspan x="4" dy="9">* 21.05.1943 Greifswald</tspan></text></g>

<g id="n-gisela" transform="translate(1014,1080)"><rect class="b" width="105" height="66"/>
<text class="t" y="12"><tspan x="4" class="n">Gisela Margarete Vera</tspan><tspan x="4" dy="9">* 19.01.1931 Essen</tspan><tspan x="4" dy="18">ↀ 1958 Walter Steiner</tspan><tspan x="4" dy="9">*   20.07.1926 Prag</tspan></text></g>

<g id="n-hanspeterrolf" transform="translate(1137,1078)"><rect class="b" width="131" height="62"/>
<text class="t" y="11"><tspan x="4" class="n">Hans-Peter Rolf</tspan><tspan x="4" dy="9">* 31.05.1934 Sprottau (Schlesien)</tspan><tspan x="4" dy="18">ↀ 1965 Alexandra Furrer</tspan><tspan x="4" dy="9">*   21.03.1944 Luzern (Schweiz)</tspan></text></g>

<g id="n-ralf" transform="translate(1388,1078)"><rect class="b" width="109" height="63"/>
<text class="t" y="11"><tspan x="4" class="n">Ralf</tspan><tspan x="4" dy="9">* 12.02.1943 Münster</tspan><tspan x="4" dy="18">ↀ 1969 Annegret Leopold</tspan><tspan x="4" dy="9">*   18.08.1951 Münster</tspan></text></g>

<!-- generation 12 -->
<g id="n-katharina" transform="translate(152,1184)"><rect class="b" width="106" height="64"/>
<text class="t" y="12"><tspan x="4" class="n">Katharina</tspan><tspan x="4" dy="9">* 01.10.1965 Freiburg</tspan><tspan x="4" dy="9">ↀ 2005 Wolfgang Krämer</tspan></text></g>

<g id="n-jochen" transform="translate(276,1184)"><rect class="b" width="118" height="61"/>
<text class="t" y="12"><tspan x="4" class="n">Jochen</tspan><tspan x="4" dy="9">* 05.12.1966 Stuttgart</tspan><tspan x="4" dy="18">ↀ 1996 Julia Probst</tspan><tspan x="4" dy="9">*   19.07.1969 Wermelskirchen</tspan></text></g>

<g id="n-johanna" transform="translate(422,1183)"><rect class="b" width="108" height="61"/>
<text class="t" y="12"><tspan x="4" class="n">Johanna</tspan><tspan x="4" dy="9">* 07.02.1972 Hannover</tspan></text></g>

<g id="n-christiane" transform="translate(537,1182)"><rect class="b" width="116" height="60"/>
<text class="t" y="12"><tspan x="4" class="n">Christiane</tspan><tspan x="4" dy="9">* 02.06.1975 Hannover</tspan><tspan x="4" dy="18">ↀ 2000 Werner v. Wulffen</tspan><tspan x="4" dy="9">*   04.01.1975 Hannover</tspan></text></g>

<g id="n-hansjoachim3" transform="translate(919,1184) rotate(-3)"><rect class="b" width="136" height="70"/>
<text class="t" y="13"><tspan x="4" class="n">Hans-Joachim</tspan><tspan x="4" dy="9.5">* 16.07.1966 Turnhout (Belgien)</tspan><tspan x="4" dy="9.5">ↀ 2003 Begoña Martinez Arbizu</tspan><tspan x="4" dy="9.5">* 25.04.1966 Valencia (Spanien)</tspan></text></g>

<g id="n-matthias" transform="translate(1061,1178)"><rect class="b" width="123" height="62"/>
<text class="t" y="12"><tspan x="4" class="n">Matthias</tspan><tspan x="4" dy="9">* 08.06.1970 Turnhout (Belgien)</tspan><tspan x="4" dy="18">ↀ 2001 Christine Nemitz</tspan><tspan x="4" dy="9">*   01.04.1970 Washington (USA)</tspan></text></g>

<g id="n-sophiadorothea" transform="translate(1189,1180)"><rect class="b" width="106" height="62"/>
<text class="t" y="12"><tspan x="4" class="n">Sophia Dorothea</tspan><tspan x="4" dy="9">* 25.10.1977 Alkmaar</tspan></text>
<text class="t" x="102" y="30" text-anchor="end">(Niederlande)</text></g>

<g id="n-karin" transform="translate(1305,1178)"><rect class="b" width="97" height="63"/>
<text class="t" y="12"><tspan x="4" class="n">Karin</tspan><tspan x="4" dy="9">* 20.04.1970 Münster</tspan></text></g>

<g id="n-gerrit" transform="translate(1417,1181)"><rect class="b" width="107" height="61"/>
<text class="t" y="12"><tspan x="4" class="n">Gerrit</tspan><tspan x="4" dy="9.5">* 02.04.1974 Münster</tspan><tspan x="4" dy="9.5">ↀ 2003 Karstin Förster</tspan><tspan x="4" dy="9.5">* 01.11.1975 Fulda</tspan></text></g>

<g id="n-elke" transform="translate(1532,1181)"><rect class="b" width="106" height="61"/>
<text class="t" y="12"><tspan x="4" class="n">Elke</tspan><tspan x="4" dy="9">* 04.07.1985 Münster</tspan></text></g>

<!-- generation 13 -->
<g id="n-gereon" transform="translate(120,1268)"><rect class="b" width="101" height="49"/>
<text class="t" y="11"><tspan x="4" class="n" fill="#8a6a5e">Gereon</tspan><tspan x="4" dy="9">* 25.11.2004 Erlangen</tspan></text></g>

<g id="n-theresa" transform="translate(230,1268)"><rect class="b" width="106" height="44"/>
<text class="t" y="11"><tspan x="4" class="n">Theresa</tspan><tspan x="4" dy="9">* 12.07.2000 Göttingen</tspan></text></g>

<g id="n-juliane" transform="translate(343,1268)"><rect class="b" width="101" height="44"/>
<text class="t" y="11"><tspan x="4" class="n">Juliane</tspan><tspan x="4" dy="9">* 23.11.2001 Göttingen</tspan></text></g>

<g id="n-elisa" transform="translate(451,1268)"><rect class="b" width="104" height="44"/>
<text class="t" y="11"><tspan x="4" class="n">Elisa</tspan><tspan x="4" dy="9">* 22.04.2005 Göttingen</tspan></text></g>

<g id="n-moritz" transform="translate(562,1268)"><rect class="b" width="116" height="42"/>
<text class="t" y="11"><tspan x="4" class="n">Moritz</tspan><tspan x="4" dy="9">* 05.09.2008 Niedereschach</tspan></text></g>

<g id="n-victor" transform="translate(954,1268)"><rect class="b" width="96" height="47"/>
<text class="t" y="13"><tspan x="4" class="n">Victor Joachim</tspan><tspan x="4" dy="9">* 22.01.2008 Rom</tspan></text></g>

<g id="n-sebastian" transform="translate(1076,1264)"><rect class="b" width="102" height="46"/>
<text class="t" y="11"><tspan x="4" class="n">Sebastian Erik</tspan><tspan x="4" dy="9">* 16.08.2002 Starnberg</tspan></text></g>

<g id="n-alexander" transform="translate(1187,1264)"><rect class="b" width="107" height="46"/>
<text class="t" y="11"><tspan x="4" class="n">Alexander Niklas</tspan><tspan x="4" dy="9">* 09.06.2004 Starnberg</tspan></text></g>

<g id="n-christopher" transform="translate(1300,1264)"><rect class="b" width="105" height="46"/>
<text class="t" y="11"><tspan x="4" class="n">Christopher David</tspan><tspan x="4" dy="9">* 09.11.2006 Starnberg</tspan></text></g>

<g id="n-jannis" transform="translate(1422,1264)"><rect class="b" width="111" height="46"/>
<text class="t" y="13"><tspan x="4" class="n">Jannis</tspan><tspan x="4" dy="9">* 04.12.2005 Münster</tspan></text></g>

<g id="n-linus" transform="translate(1541,1267)"><rect class="b" width="113" height="45"/>
<text class="t" y="13"><tspan x="4" class="n">Linus</tspan><tspan x="4" dy="9">* 16.10.2008 Münster</tspan></text></g>

<g id="n-stand" transform="translate(1717,1262)"><rect width="95" height="35" fill="none" stroke="#9a9a9a" stroke-width="1"/>
<text class="t g" text-anchor="middle" x="47" y="14" style="font-size:8px">Januar 2013</text>
<text class="t g" text-anchor="middle" x="47" y="25" style="font-size:7px">Peter v. der Hardt</text></g>
</svg>
